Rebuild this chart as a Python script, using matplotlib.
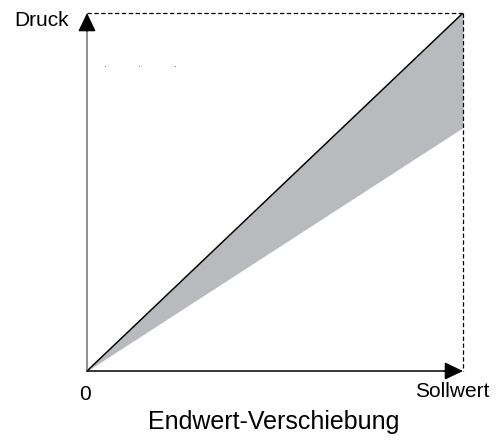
import matplotlib
matplotlib.use("Agg")
import matplotlib.pyplot as plt
import numpy as np

plt.rcParams['font.family'] = ['Liberation Sans', 'DejaVu Sans']

# data (normalized: 0 .. Sollwert on x, 0 .. Druck on y)
x_vals = [0.0, 1.0]
upper_vals = [0.0, 1.0]     # ideal characteristic
lower_vals = [0.0, 0.68]    # shifted end value
dot_x = [0.048, 0.138, 0.234]
dot_y = [0.853, 0.853, 0.853]

W, H = 501, 443
fig = plt.figure(figsize=(W / 100, H / 100), dpi=100)
ox, oy = 87, 371
tx, ty = 463, 13
ax = fig.add_axes([ox / W, 1 - oy / H, (tx - ox) / W, (oy - ty) / H])
ax.set_xlim(0, 1)
ax.set_ylim(0, 1)
ax.axis('off')

ax.fill_between(x_vals, lower_vals, upper_vals, color='#b9babe', lw=0, zorder=1)
ax.plot(x_vals, upper_vals, color='black', lw=1.1, zorder=3)

# dashed frame
ax.plot([0, 1], [1, 1], color='black', lw=0.9, ls=(0, (3.5, 2)), clip_on=False, zorder=2)
ax.plot([1, 1], [1, 0], color='black', lw=0.9, ls=(0, (3.5, 2)), clip_on=False, zorder=2)

# axes
ax.plot([0, 0], [0, 0.97], color='#707070', lw=1.1, clip_on=False, zorder=4)
ax.plot([0, 0.97], [0, 0], color='black', lw=1.1, clip_on=False, zorder=4)
ap = dict(arrowstyle='-|>,head_length=1.15,head_width=0.55', mutation_scale=10,
          color='black', lw=1, shrinkA=0, shrinkB=0)
ax.annotate('', xy=(0, 1), xytext=(0, 0.95), arrowprops=ap, annotation_clip=False, zorder=5)
ax.annotate('', xy=(1, 0), xytext=(0.95, 0), arrowprops=ap, annotation_clip=False, zorder=5)

ax.scatter(dot_x, dot_y, s=0.25, color='#333333', linewidths=0, zorder=2, clip_on=False)

def ft(x, y, s, **kw):
    fig.text(x / W, 1 - y / H, s, **kw)

ft(14, 26, 'Druck', fontsize=15, ha='left', va='baseline')
ft(85, 400, '0', fontsize=15, ha='center', va='baseline')
ft(452, 397, 'Sollwert', fontsize=15, ha='center', va='baseline')
ft(274, 429, 'Endwert-Verschiebung', fontsize=18, ha='center', va='baseline')

fig.savefig('out.png', dpi=100)
